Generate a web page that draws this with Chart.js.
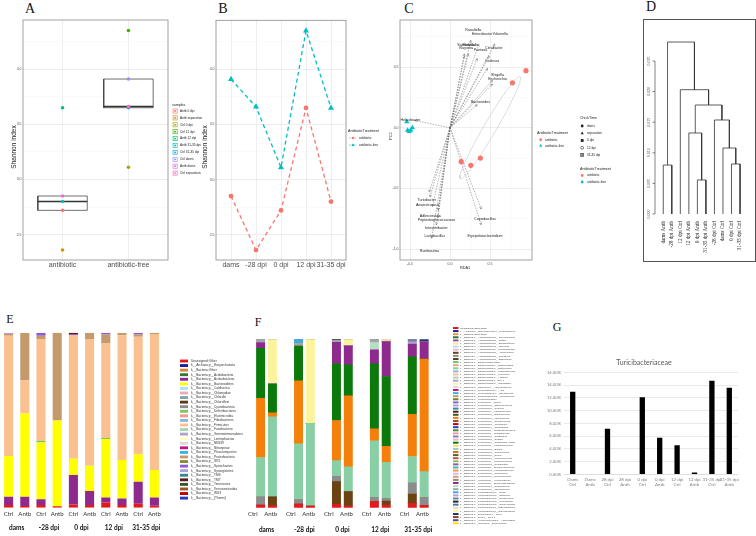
<!DOCTYPE html>
<html>
<head>
<meta charset="utf-8">
<title>Microbiota figure</title>
<script src="https://cdn.jsdelivr.net/npm/chart.js@4.4.1/dist/chart.umd.min.js"></script>
<style>
  body { margin: 0; width: 756px; height: 536px; position: relative; overflow: hidden; background: #fff; }
  canvas { position: absolute; }
  .tag { position: absolute; font-family: "Liberation Serif", serif; color: #111; line-height: 1; transform: translate(-50%, -50%); }
  #frameD { position: absolute; left: 643px; top: 19px; width: 111px; height: 241px; border: 1px solid #555; }
</style>
</head>
<body>
<div class="tag" style="left:30px;top:9px;font-size:14px">A</div>
<div class="tag" style="left:223px;top:9px;font-size:14px">B</div>
<div class="tag" style="left:409px;top:9px;font-size:14px">C</div>
<div class="tag" style="left:651px;top:7px;font-size:14px">D</div>
<div class="tag" style="left:10px;top:319px;font-size:12px">E</div>
<div class="tag" style="left:258px;top:322px;font-size:12px">F</div>
<div class="tag" style="left:557px;top:327px;font-size:12px">G</div>
<div id="frameD"></div>
<canvas id="chartA" width="205" height="265" style="left:0;top:15px"></canvas>
<canvas id="chartB" width="185" height="265" style="left:200px;top:15px"></canvas>
<canvas id="chartC" width="240" height="265" style="left:385px;top:15px"></canvas>
<canvas id="chartD" width="113" height="243" style="left:643px;top:19px"></canvas>
<canvas id="chartE" width="255" height="216" style="left:0;top:320px"></canvas>
<canvas id="chartF" width="270" height="216" style="left:245px;top:320px"></canvas>
<canvas id="chartG" width="241" height="150" style="left:515px;top:350px"></canvas>
<script>
// ---- alpha diversity (A, B) ----
const timepoints = ["dams", "-28 dpi", "0 dpi", "12 dpi", "31-35 dpi"];
const shannonAntb = [2.85, 2.36, 2.72, 3.65, 2.80];
const shannonCtrl = [3.91, 3.66, 3.11, 4.35, 3.65];
const shannonTicks = [2.5, 3.0, 3.5, 4.0];
const treatmentNames = ["antibiotic", "antibiotic-free"];
const sampleNames = ["Antb 0 dpi", "Antb separation", "Ctrl 0 dpi", "Ctrl 12 dpi", "Antb 12 dpi",
  "Antb 31-35 dpi", "Ctrl 31-35 dpi", "Ctrl dams", "Antb dams", "Ctrl separation"];
const sampleGroup = [0, 0, 1, 1, 0, 0, 1, 1, 0, 1];
const sampleTime = [2, 1, 2, 3, 3, 4, 4, 0, 0, 1];
const sampleColors = ["#F8766D", "#D89000", "#A3A500", "#39B600", "#00BF7D",
  "#00BFC4", "#00B0F6", "#9590FF", "#E76BF3", "#FF62BC"];

// ---- RDA biplot (C) ----
const taxa = ["Raoultella", "Enterobacter", "Yokenella", "Salmonella", "Klebsiella", "Kluyvera",
  "Pantoea", "Citrobacter", "Cedecea", "Shigella", "Escherichia", "Bacteroides", "Helicobacter",
  "Turicibacter", "Anaerotruncus", "Adlercreutzia", "Peptostreptococcaceae", "Intestinibacter",
  "Lactobacillus", "Romboutsia", "Coprobacillus", "Erysipelatoclostridium"];
const taxaRda1 = [0.26, 0.36, 0.56, 0.18, 0.23, 0.18, 0.34, 0.49, 0.47, 0.53, 0.53, 0.34, -0.44,
  -0.26, -0.25, -0.22, -0.15, -0.15, -0.17, -0.23, 0.39, 0.39];
const taxaPc2 = [0.72, 0.69, 0.69, 0.61, 0.61, 0.59, 0.57, 0.59, 0.49, 0.39, 0.36, 0.19, 0.06,
  -0.53, -0.57, -0.65, -0.68, -0.74, -0.80, -0.91, -0.67, -0.80];
const rdaAntb = [0.95, 0.78, 0.14, 0.26, 0.38];
const pc2Antb = [0.47, 0.37, -0.28, -0.31, -0.25];
const rdaFree = [-0.54, -0.51, -0.49, -0.47, -0.53];
const pc2Free = [0.05, -0.03, -0.02, 0.00, -0.02];
const rdaTicks = [-0.5, 0.0, 0.5];
const pcTicks = [-1.0, -0.5, 0.0, 0.5];
const chickTimes = ["dams", "separation", "0 dpi", "12 dpi", "31-35 dpi"];

// ---- dendrogram (D) ----
const leafLabels = ["dams Antb", "-28 dpi Antb", "12 dpi Ctrl", "12 dpi Antb", "0 dpi Antb",
  "31-35 dpi Antb", "-28 dpi Ctrl", "dams Ctrl", "0 dpi Ctrl", "31-35 dpi Ctrl"];
const mergePairs = [[-5, -6], [-1, -2], [-9, -10], [-8, 3], [-4, 1], [-7, 4], [5, 6], [-3, 7], [2, 8]];
const mergeHeights = [0.00556, 0.0080, 0.00817, 0.01078, 0.01324, 0.01536, 0.01781, 0.02031, 0.0281];
const dendroTicks = [0, 0.005, 0.010, 0.015, 0.020, 0.025];

// ---- phylum composition (E) ----
const barLabels = ["Ctrl", "Antb", "Ctrl", "Antb", "Ctrl", "Antb", "Ctrl", "Antb", "Ctrl", "Antb"];
const phyla = ["Unassigned;Other", "k__Archaea;p__Euryarchaeota", "k__Bacteria;Other",
  "k__Bacteria;p__Acidobacteria", "k__Bacteria;p__Actinobacteria", "k__Bacteria;p__Bacteroidetes",
  "k__Bacteria;p__Caldiserica", "k__Bacteria;p__Chlamydiae", "k__Bacteria;p__Chlorobi",
  "k__Bacteria;p__Chloroflexi", "k__Bacteria;p__Cyanobacteria", "k__Bacteria;p__Deferribacteres",
  "k__Bacteria;p__Elusimicrobia", "k__Bacteria;p__Fibrobacteres", "k__Bacteria;p__Firmicutes",
  "k__Bacteria;p__Fusobacteria", "k__Bacteria;p__Gemmatimonadetes", "k__Bacteria;p__Lentisphaerae",
  "k__Bacteria;p__NKB19", "k__Bacteria;p__Nitrospirae", "k__Bacteria;p__Planctomycetes",
  "k__Bacteria;p__Proteobacteria", "k__Bacteria;p__SR1", "k__Bacteria;p__Spirochaetes",
  "k__Bacteria;p__Synergistetes", "k__Bacteria;p__TM6", "k__Bacteria;p__TM7",
  "k__Bacteria;p__Tenericutes", "k__Bacteria;p__Verrucomicrobia", "k__Bacteria;p__WS3",
  "k__Bacteria;p__[Thermi]"];
const phylaColors = ["#e31a1c", "#1c1c9c", "#d08a3c", "#2e7d32", "#8e2a8e", "#ffff00", "#a6e4f0",
  "#f4a6c0", "#7fa6a6", "#5a3d1e", "#8c8c8c", "#7dc860", "#f29b8c", "#8db4e2", "#fac090", "#a9d5b5",
  "#b3a2c7", "#ffffc0", "#d9d9d9", "#c0168c", "#35b5e5", "#c49a6c", "#8a8a2e", "#8e5bd1", "#b19cd9",
  "#31859c", "#5c1a1a", "#375623", "#a0522d", "#c00000", "#1f3fbf"];
const eUnassigned = [1.5, 1.0, 1.5, 0.8, 1.9, 1.5, 3.0, 1.5, 2.3, 1.1];
const eActinobacteria = [4.8, 5.3, 3.4, 0, 16.8, 8.0, 2.9, 3.8, 12.6, 4.8];
const eBacteroidetes = [23.2, 47.6, 32.4, 49.0, 9.3, 14.5, 33.3, 21.9, 15.6, 15.6];
const eDeferribacteres = [0, 0, 0.8, 0, 0, 0, 0.6, 0, 0, 0];
const eFirmicutes = [68.8, 19.0, 58.3, 0, 70.7, 72.4, 54.1, 71.4, 67.2, 77.7];
const eProteobacteria = [1.0, 27.0, 1.9, 50.2, 0, 3.6, 5.1, 1.3, 1.3, 0.8];
const eSpirochaetes = [0, 0, 1.7, 0, 0.5, 0, 1.0, 0, 1.0, 0];
const eSynergistetes = [0.7, 0, 0, 0, 0, 0, 0, 0, 0, 0];
const eTM7 = [0, 0, 0, 0, 0.8, 0, 0, 0, 0, 0];
const eStackIdx = [0, 4, 5, 11, 14, 21, 23, 24, 26];
const eStackData = [eUnassigned, eActinobacteria, eBacteroidetes, eDeferribacteres, eFirmicutes,
  eProteobacteria, eSpirochaetes, eSynergistetes, eTM7];

// ---- genus composition (F) ----
const genera = ["Unassigned;Other;Other", "k__Archaea;p__Euryarchaeota;g__Methanobrevibacter",
  "k__Bacteria;Other;Other", "k__Bacteria;p__Actinobacteria;g__Corynebacterium",
  "k__Bacteria;p__Actinobacteria;g__Rothia", "k__Bacteria;p__Actinobacteria;g__Bifidobacterium",
  "k__Bacteria;p__Actinobacteria;g__Olsenella", "k__Bacteria;p__Actinobacteria;f__Coriobacteriaceae",
  "k__Bacteria;p__Actinobacteria;g__Adlercreutzia", "k__Bacteria;p__Actinobacteria;g__Collinsella",
  "k__Bacteria;p__Actinobacteria;g__Eggerthella", "k__Bacteria;p__Bacteroidetes;Other",
  "k__Bacteria;p__Bacteroidetes;o__Bacteroidales", "k__Bacteria;p__Bacteroidetes;g__Bacteroides",
  "k__Bacteria;p__Bacteroidetes;g__Parabacteroides", "k__Bacteria;p__Bacteroidetes;g__Prevotella",
  "k__Bacteria;p__Bacteroidetes;g__Alistipes", "k__Bacteria;p__Bacteroidetes;f__S24-7",
  "k__Bacteria;p__Bacteroidetes;g__Odoribacter", "k__Bacteria;p__Chloroflexi;f__Anaerolinaceae",
  "k__Bacteria;p__Cyanobacteria;o__YS2", "k__Bacteria;p__Cyanobacteria;o__Streptophyta",
  "k__Bacteria;p__Deferribacteres;g__Mucispirillum", "k__Bacteria;p__Firmicutes;Other",
  "k__Bacteria;p__Firmicutes;c__Bacilli", "k__Bacteria;p__Firmicutes;g__Staphylococcus",
  "k__Bacteria;p__Firmicutes;g__Gemella", "k__Bacteria;p__Firmicutes;o__Lactobacillales",
  "k__Bacteria;p__Firmicutes;g__Enterococcus", "k__Bacteria;p__Firmicutes;g__Lactobacillus",
  "k__Bacteria;p__Firmicutes;g__Streptococcus", "k__Bacteria;p__Firmicutes;g__Turicibacter",
  "k__Bacteria;p__Firmicutes;o__Clostridiales", "k__Bacteria;p__Firmicutes;f__Christensenellaceae",
  "k__Bacteria;p__Firmicutes;f__Clostridiaceae", "k__Bacteria;p__Firmicutes;g__Clostridium",
  "k__Bacteria;p__Firmicutes;g__SMB53", "k__Bacteria;p__Firmicutes;g__Candidatus Arthromitus",
  "k__Bacteria;p__Firmicutes;f__Lachnospiraceae", "k__Bacteria;p__Firmicutes;g__Blautia",
  "k__Bacteria;p__Firmicutes;g__Coprococcus", "k__Bacteria;p__Firmicutes;g__Dorea",
  "k__Bacteria;p__Firmicutes;g__[Ruminococcus]", "k__Bacteria;p__Firmicutes;f__Peptococcaceae",
  "k__Bacteria;p__Firmicutes;g__Romboutsia", "k__Bacteria;p__Firmicutes;f__Ruminococcaceae",
  "k__Bacteria;p__Firmicutes;g__Faecalibacterium", "k__Bacteria;p__Firmicutes;g__Oscillospira",
  "k__Bacteria;p__Firmicutes;g__Ruminococcus", "k__Bacteria;p__Firmicutes;f__Veillonellaceae",
  "k__Bacteria;p__Firmicutes;f__Erysipelotrichaceae", "k__Bacteria;p__Firmicutes;g__Coprobacillus",
  "k__Bacteria;p__Firmicutes;g__[Eubacterium]", "k__Bacteria;p__Proteobacteria;o__RF32",
  "k__Bacteria;p__Proteobacteria;g__Sutterella", "k__Bacteria;p__Proteobacteria;g__Desulfovibrio",
  "k__Bacteria;p__Proteobacteria;g__Helicobacter", "k__Bacteria;p__Proteobacteria;g__Campylobacter",
  "k__Bacteria;p__Proteobacteria;f__Enterobacteriaceae;Other",
  "k__Bacteria;p__Proteobacteria;f__Enterobacteriaceae", "k__Bacteria;p__Tenericutes;o__RF39",
  "k__Bacteria;p__TM7;c__TM7-3", "k__Bacteria;p__Verrucomicrobia;g__Akkermansia",
  "k__Bacteria;p__[Thermi];g__Deinococcus"];
const generaColors = ["#e31a1c", "#1c1c9c", "#e39b3c", "#1f7a3a", "#9c4f96", "#f2ee8a", "#b3e0f2",
  "#f4b6c8", "#6b4212", "#8c8c8c", "#5c3d1e", "#57d357", "#f0a08c", "#88cfa5", "#8db4e2", "#fac090",
  "#a9d5b5", "#b3a2c7", "#fff2a8", "#d9d9d9", "#c0168c", "#35b5e5", "#b0a36b", "#7a7a1e", "#8866cc",
  "#b0a0d8", "#2f8f9d", "#5c1a1a", "#3a5a1f", "#f57f0b", "#a0522d", "#c00000", "#2040c0", "#4b8f2a",
  "#ff9999", "#7f7fbf", "#e6b8b7", "#0b7a0b", "#ffd966", "#93cddd", "#e46c0a", "#4f6228", "#c0504d",
  "#9bbb59", "#8064a2", "#4bacc6", "#f79646", "#ccc1da", "#d99694", "#948a54", "#8e2a8e", "#b5dfc0",
  "#a6a6a6", "#3fa9e0", "#b7a0d0", "#6b7fa8", "#262626", "#31859c", "#f9d8b0", "#fbf49c", "#1f3864",
  "#953735", "#5f497a", "#ffe000"];
const fUnassigned = [1.6, 1.2, 2.2, 1.0, 2.2, 1.0, 3.6, 1.6, 2.6, 1.2];
const fAdlercreutzia = [0, 5.3, 0, 0, 13.3, 8.5, 0, 2.4, 5.5, 0];
const fCollinsella = [5.0, 0, 2.8, 0, 3.2, 0, 2.6, 1.6, 6.7, 5.0];
const fBacteroides = [23.2, 47.5, 33.0, 49.1, 9.3, 14.7, 33.5, 21.4, 15.6, 15.2];
const fLactobacillus = [35.2, 2.4, 37.4, 0, 23.8, 42.2, 7.1, 9.5, 25.1, 66.9];
const fArthromitus = [29.7, 17.0, 20.6, 0, 33.7, 18.4, 38.6, 41.4, 34.1, 0];
const fErysipelotrichaceae = [3.4, 0, 0, 0, 12.7, 11.3, 8.3, 20.8, 7.5, 10.3];
const fCoprobacillus = [0, 0, 0, 0, 0, 0, 4.4, 0, 0, 0];
const fEubacterium = [2.0, 0, 1.6, 0, 1.0, 0, 2.0, 0, 0, 0];
const fRF32 = [0, 0, 2.4, 0, 0, 0, 0, 0, 0, 0];
const fSutterella = [0, 0, 0, 0, 0, 0, 0, 0, 1.4, 0];
const fDesulfovibrio = [0, 0, 0, 0, 0, 0, 0, 0, 1.4, 0];
const fHelicobacter = [0, 0, 0, 0, 1.0, 0, 0, 0, 0, 0];
const fEnteroOther = [0, 0, 0, 0, 0, 0, 0, 1.3, 0, 0];
const fEnterobacteriaceae = [0, 26.5, 0, 49.9, 0, 3.9, 0, 0, 0, 0];
const fRF39 = [0, 0, 0, 0, 0, 0, 0, 0, 0, 1.4];
const fStackIdx = [0, 8, 9, 13, 29, 37, 50, 51, 52, 53, 54, 55, 56, 58, 59, 60];
const fStackData = [fUnassigned, fAdlercreutzia, fCollinsella, fBacteroides, fLactobacillus,
  fArthromitus, fErysipelotrichaceae, fCoprobacillus, fEubacterium, fRF32, fSutterella,
  fDesulfovibrio, fHelicobacter, fEnteroOther, fEnterobacteriaceae, fRF39];

// ---- Turicibacteraceae (G) ----
const turiciLabels = [["Dams", "Ctrl"], ["Dams", "Antb"], ["28 dpi", "Ctrl"], ["28 dpi", "Antb"],
  ["0 dpi", "Ctrl"], ["0 dpi", "Antb"], ["12 dpi", "Ctrl"], ["12 dpi", "Antb"],
  ["31-35 dpi", "Ctrl"], ["31-35 dpi", "Antb"]];
const turiciPct = [12.96, 0, 7.15, 0, 12.08, 5.74, 4.55, 0.3, 14.68, 13.58];

Chart.defaults.animation = false;
Chart.defaults.responsive = false;
Chart.defaults.devicePixelRatio = 1;
Chart.defaults.color = "#4d4d4d";
Chart.defaults.font.family = '"Liberation Sans", sans-serif';
Chart.defaults.plugins.legend.display = false;
Chart.defaults.plugins.tooltip.enabled = false;

const SANS = '"Liberation Sans", sans-serif';
const SERIF = '"Liberation Serif", serif';
const LATO = 'Lato, "Open Sans", sans-serif';

// helpers
function withMinors(majors, min, max) {
  const h = (majors[1] - majors[0]) / 2;
  const vals = new Set();
  majors.forEach(m => [m - h, m, m + h].forEach(v => {
    if (v >= min && v <= max) vals.add(+v.toFixed(6));
  }));
  return [...vals].sort((a, b) => a - b).map(v => ({ value: v }));
}
const isIn = (list, v) => list.some(m => Math.abs(m - v) < 1e-9);

function ggAxis(majors, min, max, width, axis) {
  const o = {
    type: "linear", min, max,
    afterBuildTicks: s => { s.ticks = withMinors(majors, min, max); },
    ticks: { callback: v => isIn(majors, v) ? v.toFixed(1) : "", font: { size: 3.5 }, color: "#4d4d4d",
      padding: 1.5, autoSkip: false, maxRotation: 0 },
    grid: {
      color: c => c.tick && isIn(majors, c.tick.value) ? "#e6e6e6" : "#f2f2f2",
      lineWidth: c => c.tick && isIn(majors, c.tick.value) ? 0.7 : 0.4,
      drawTicks: false
    },
    border: { display: false }
  };
  if (axis === "y") o.afterFit = s => { s.width = width; };
  else o.afterFit = s => { s.height = width; };
  return o;
}

function discreteX(names) {
  return {
    type: "linear", min: -0.6, max: names.length - 0.4,
    afterBuildTicks: s => { s.ticks = names.map((_, i) => ({ value: i })); },
    ticks: { callback: v => names[v], font: { size: 7 }, color: "#4d4d4d", padding: 1, maxRotation: 0, autoSkip: false },
    grid: { color: "#e6e6e6", lineWidth: 0.7, drawTicks: false },
    border: { display: false },
    afterFit: s => { s.height = 13; }
  };
}

function quantile(arr, p) {
  const s = [...arr].sort((a, b) => a - b);
  const h = (s.length - 1) * p, lo = Math.floor(h);
  const hi = Math.min(lo + 1, s.length - 1);
  return s[lo] + (h - lo) * (s[hi] - s[lo]);
}

function framePlugin(color) {
  return {
    id: "frame",
    afterDraw(chart) {
      const { ctx, chartArea: a } = chart;
      ctx.save();
      ctx.strokeStyle = color;
      ctx.lineWidth = 0.8;
      ctx.strokeRect(a.left, a.top, a.right - a.left, a.bottom - a.top);
      ctx.restore();
    }
  };
}

function textPlugin(items) {
  return {
    id: "texts",
    afterDraw(chart) {
      const ctx = chart.ctx;
      items.forEach(t => {
        ctx.save();
        ctx.translate(t.x, t.y);
        ctx.rotate(t.rot || 0);
        ctx.font = t.font;
        ctx.fillStyle = t.color || "#222";
        ctx.textAlign = t.align || "center";
        ctx.textBaseline = "middle";
        ctx.fillText(t.text, 0, 0);
        ctx.restore();
      });
    }
  };
}

function drawKey(ctx, shape, x, y, color, size) {
  ctx.save();
  ctx.fillStyle = color;
  ctx.strokeStyle = color;
  ctx.lineWidth = 0.6;
  const r = 1.4;
  const cx = x + size / 2;
  const tri = () => {
    ctx.beginPath();
    ctx.moveTo(cx, y - r * 1.2);
    ctx.lineTo(cx + r * 1.1, y + r * 0.8);
    ctx.lineTo(cx - r * 1.1, y + r * 0.8);
    ctx.closePath();
    ctx.fill();
  };
  if (shape === "rect") {
    ctx.fillRect(x, y - size * 0.18, size, size * 0.36);
  } else if (shape === "boxdot") {
    ctx.fillStyle = "#f4f4f4";
    ctx.fillRect(x, y - size / 2, size, size);
    ctx.strokeRect(x, y - size / 2, size, size);
    ctx.fillStyle = color;
    ctx.beginPath(); ctx.arc(cx, y, 0.9, 0, Math.PI * 2); ctx.fill();
  } else if (shape === "dashC" || shape === "dashT") {
    ctx.setLineDash([1.6, 1]);
    ctx.beginPath(); ctx.moveTo(x, y); ctx.lineTo(x + size, y); ctx.stroke();
    ctx.setLineDash([]);
    if (shape === "dashC") { ctx.beginPath(); ctx.arc(cx, y, 1.2, 0, Math.PI * 2); ctx.fill(); }
    else tri();
  } else if (shape === "circle") {
    ctx.beginPath(); ctx.arc(cx, y, r, 0, Math.PI * 2); ctx.fill();
  } else if (shape === "triangle") {
    tri();
  } else if (shape === "square") {
    ctx.fillRect(cx - r, y - r, r * 2, r * 2);
  } else if (shape === "ocircle") {
    ctx.beginPath(); ctx.arc(cx, y, r, 0, Math.PI * 2); ctx.stroke();
  } else if (shape === "xsquare") {
    ctx.strokeRect(cx - r, y - r, r * 2, r * 2);
    ctx.beginPath();
    ctx.moveTo(cx - r, y - r); ctx.lineTo(cx + r, y + r);
    ctx.moveTo(cx + r, y - r); ctx.lineTo(cx - r, y + r);
    ctx.stroke();
  }
  ctx.restore();
}

function legendPlugin(blocks) {
  return {
    id: "sideLegend",
    afterDraw(chart) {
      const ctx = chart.ctx;
      blocks.forEach(b => {
        ctx.save();
        ctx.textBaseline = "middle";
        ctx.textAlign = "left";
        ctx.fillStyle = "#222";
        if (b.title) {
          ctx.font = `${b.titleSize || b.size}px ${b.family}`;
          ctx.fillText(b.title, b.titleX, b.titleY);
        }
        ctx.font = `${b.size}px ${b.family}`;
        b.items.forEach((it, i) => {
          const y = b.y + i * b.step;
          drawKey(ctx, it.shape, b.keyX, y, it.color, b.keySize);
          ctx.fillStyle = b.textColor || "#222";
          ctx.fillText(it.label, b.textX, y);
        });
        ctx.restore();
      });
    }
  };
}

// ================= A: boxplot of Shannon index =================
const sampleValue = i => (sampleGroup[i] ? shannonCtrl : shannonAntb)[sampleTime[i]];
const groupValues = treatmentNames.map((_, g) =>
  sampleNames.map((_, i) => i).filter(i => sampleGroup[i] === g).map(sampleValue));
const boxHalf = 0.375;
const boxDatasets = [];
groupValues.forEach((vals, g) => {
  const q1 = quantile(vals, 0.25), med = quantile(vals, 0.5), q3 = quantile(vals, 0.75);
  boxDatasets.push({
    data: [{ x: g - boxHalf, y: q1 }, { x: g + boxHalf, y: q1 }, { x: g + boxHalf, y: q3 },
      { x: g - boxHalf, y: q3 }, { x: g - boxHalf, y: q1 }],
    borderColor: "#333", borderWidth: 0.7, backgroundColor: "#fff", fill: "shape",
    pointRadius: 0, order: 2
  });
  boxDatasets.push({
    data: [{ x: g - boxHalf, y: med }, { x: g + boxHalf, y: med }],
    borderColor: "#333", borderWidth: 1.5, pointRadius: 0, order: 1
  });
});

new Chart(document.getElementById("chartA"), {
  type: "line",
  data: {
    datasets: [...boxDatasets, {
      data: sampleNames.map((_, i) => ({ x: sampleGroup[i], y: sampleValue(i) })),
      showLine: false, pointRadius: 1.8, pointBorderWidth: 0,
      pointBackgroundColor: sampleColors, order: 0
    }]
  },
  options: {
    layout: { padding: { left: 0, right: 37, top: 5, bottom: 7 } },
    scales: { x: discreteX(treatmentNames), y: ggAxis(shannonTicks, 2.27, 4.445, 23, "y") }
  },
  plugins: [
    framePlugin("#8a8a8a"),
    textPlugin([{ text: "Shannon index", x: 14, y: 132, rot: -Math.PI / 2, font: `6.5px ${SANS}`, color: "#222" }]),
    legendPlugin([{
      title: "samples", titleX: 172, titleY: 90, size: 3.2, titleSize: 3.6, family: SANS,
      keyX: 173, keySize: 4.2, textX: 180, y: 96, step: 6.9,
      items: sampleNames.map((n, i) => ({ label: n, color: sampleColors[i], shape: "boxdot" }))
    }])
  ]
});

// ================= B: Shannon index over time =================
new Chart(document.getElementById("chartB"), {
  type: "line",
  data: {
    datasets: [
      {
        data: timepoints.map((_, i) => ({ x: i, y: shannonAntb[i] })),
        borderColor: "#F8766D", backgroundColor: "#F8766D", borderDash: [4, 3], borderWidth: 1.3,
        pointRadius: 1.8, pointStyle: "circle", tension: 0
      },
      {
        data: timepoints.map((_, i) => ({ x: i, y: shannonCtrl[i] })),
        borderColor: "#00BFC4", backgroundColor: "#00BFC4", borderDash: [4, 3], borderWidth: 1.3,
        pointRadius: 2.2, pointStyle: "triangle", tension: 0
      }
    ]
  },
  options: {
    layout: { padding: { left: 0, right: 39, top: 5, bottom: 7 } },
    scales: { x: discreteX(timepoints), y: ggAxis(shannonTicks, 2.27, 4.445, 16, "y") }
  },
  plugins: [
    framePlugin("#8a8a8a"),
    textPlugin([{ text: "Shannon index", x: 5, y: 132, rot: -Math.PI / 2, font: `6.5px ${SANS}`, color: "#222" }]),
    legendPlugin([{
      title: "AntibioticTreatment", titleX: 148, titleY: 116, size: 3.2, titleSize: 3.6, family: SANS,
      keyX: 149, keySize: 8, textX: 159, y: 123, step: 7,
      items: [{ label: "antibiotic", color: "#F8766D", shape: "dashC" },
        { label: "antibiotic-free", color: "#00BFC4", shape: "dashT" }]
    }])
  ]
});

// ================= C: RDA biplot =================
const arrowData = [];
taxa.forEach((_, i) => {
  arrowData.push({ x: 0, y: 0 }, { x: taxaRda1[i], y: taxaPc2[i] }, { x: 0, y: null });
});

function seEllipse(xs, ys) {
  const n = xs.length;
  const mx = xs.reduce((a, b) => a + b, 0) / n, my = ys.reduce((a, b) => a + b, 0) / n;
  let sxx = 0, syy = 0, sxy = 0;
  xs.forEach((x, i) => {
    sxx += (x - mx) ** 2; syy += (ys[i] - my) ** 2; sxy += (x - mx) * (ys[i] - my);
  });
  sxx /= n - 1; syy /= n - 1; sxy /= n - 1;
  const tr = sxx + syy, det = sxx * syy - sxy * sxy;
  const d = Math.sqrt(Math.max(tr * tr / 4 - det, 0));
  const l1 = tr / 2 + d, l2 = Math.max(tr / 2 - d, 0);
  const ang = Math.atan2(l1 - sxx, sxy);
  const k = Math.sqrt(5.991);
  const a = k * Math.sqrt(l1 / n), b = k * Math.sqrt(l2 / n);
  const pts = [];
  for (let t = 0; t <= 72; t++) {
    const th = (t / 72) * Math.PI * 2;
    pts.push({
      x: mx + a * Math.cos(th) * Math.cos(ang) - b * Math.sin(th) * Math.sin(ang),
      y: my + a * Math.cos(th) * Math.sin(ang) + b * Math.sin(th) * Math.cos(ang)
    });
  }
  return pts;
}

const biplotLabels = {
  id: "biplotLabels",
  afterDatasetsDraw(chart) {
    const { ctx, scales: { x, y } } = chart;
    const x0 = x.getPixelForValue(0), y0 = y.getPixelForValue(0);
    ctx.save();
    ctx.strokeStyle = "#555";
    ctx.lineWidth = 0.5;
    ctx.fillStyle = "#1a1a1a";
    ctx.font = `3.6px ${SANS}`;
    ctx.textAlign = "center";
    ctx.textBaseline = "middle";
    taxa.forEach((name, i) => {
      const px = x.getPixelForValue(taxaRda1[i]), py = y.getPixelForValue(taxaPc2[i]);
      const ang = Math.atan2(py - y0, px - x0);
      ctx.beginPath();
      ctx.moveTo(px - 2.5 * Math.cos(ang - 0.45), py - 2.5 * Math.sin(ang - 0.45));
      ctx.lineTo(px, py);
      ctx.lineTo(px - 2.5 * Math.cos(ang + 0.45), py - 2.5 * Math.sin(ang + 0.45));
      ctx.stroke();
      ctx.fillText(name, x.getPixelForValue(taxaRda1[i] * 1.12), y.getPixelForValue(taxaPc2[i] * 1.12));
    });
    ctx.restore();
  }
};

new Chart(document.getElementById("chartC"), {
  type: "scatter",
  data: {
    datasets: [
      {
        data: arrowData, showLine: true, spanGaps: false, borderColor: "#666", borderWidth: 0.5,
        borderDash: [1.5, 1.2], pointRadius: 0, order: 3
      },
      {
        data: seEllipse(rdaAntb, pc2Antb), showLine: true, borderColor: "#bbb", borderWidth: 0.5,
        pointRadius: 0, order: 2
      },
      {
        data: rdaAntb.map((v, i) => ({ x: v, y: pc2Antb[i] })), pointStyle: "circle", pointRadius: 2.6,
        pointBorderWidth: 0, backgroundColor: "#F8766D", order: 0
      },
      {
        data: rdaFree.map((v, i) => ({ x: v, y: pc2Free[i] })), pointStyle: "triangle", pointRadius: 3,
        pointBorderWidth: 0, backgroundColor: "#00BFC4", order: 0
      }
    ]
  },
  options: {
    layout: { padding: { left: 0, right: 93, top: 5, bottom: 8 } },
    scales: {
      x: ggAxis(rdaTicks, -0.625, 1.025, 12, "x"),
      y: ggAxis(pcTicks, -1.09, 0.888, 15, "y")
    }
  },
  plugins: [
    framePlugin("#8a8a8a"),
    biplotLabels,
    textPlugin([
      { text: "PC2", x: 6, y: 121, rot: -Math.PI / 2, font: `3.8px ${SANS}`, color: "#222" },
      { text: "RDA1", x: 80, y: 253, font: `3.8px ${SANS}`, color: "#222" }
    ]),
    legendPlugin([
      {
        title: "AntibioticTreatment", titleX: 152, titleY: 118, size: 3.2, titleSize: 3.6, family: SANS,
        keyX: 154, keySize: 3.4, textX: 160, y: 124.7, step: 6,
        items: [{ label: "antibiotic", color: "#F8766D", shape: "circle" },
          { label: "antibiotic-free", color: "#00BFC4", shape: "triangle" }]
      },
      {
        title: "ChickTime", titleX: 195, titleY: 103, size: 3.2, titleSize: 3.6, family: SANS,
        keyX: 195.5, keySize: 3.4, textX: 202, y: 111, step: 7.25,
        items: chickTimes.map((t, i) => ({ label: t, color: "#222",
          shape: ["circle", "triangle", "square", "ocircle", "xsquare"][i] }))
      },
      {
        title: "AntibioticTreatment", titleX: 195, titleY: 154, size: 3.2, titleSize: 3.6, family: SANS,
        keyX: 195.5, keySize: 3.4, textX: 202, y: 160.5, step: 6.5,
        items: [{ label: "antibiotic", color: "#F8766D", shape: "circle" },
          { label: "antibiotic-free", color: "#00BFC4", shape: "circle" }]
      }
    ])
  ]
});

// ================= D: dendrogram =================
const nodes = [];
const dendroData = [];
const nodeOf = ref => ref < 0 ? { x: -ref, h: 0 } : nodes[ref - 1];
mergePairs.forEach((pair, m) => {
  const L = nodeOf(pair[0]), R = nodeOf(pair[1]), h = mergeHeights[m];
  dendroData.push({ x: L.x, y: L.h }, { x: L.x, y: h }, { x: R.x, y: h }, { x: R.x, y: R.h }, { x: R.x, y: null });
  nodes.push({ x: (L.x + R.x) / 2, h });
});

const dendroAxis = {
  id: "dendroAxis",
  afterDraw(chart) {
    const { ctx, scales: { y }, chartArea: a } = chart;
    const ax = a.left - 4;
    ctx.save();
    ctx.strokeStyle = "#333";
    ctx.lineWidth = 0.6;
    ctx.beginPath();
    ctx.moveTo(ax, y.getPixelForValue(dendroTicks[0]));
    ctx.lineTo(ax, y.getPixelForValue(dendroTicks[dendroTicks.length - 1]));
    dendroTicks.forEach(t => {
      const py = y.getPixelForValue(t);
      ctx.moveTo(ax, py); ctx.lineTo(ax - 2.5, py);
    });
    ctx.stroke();
    ctx.font = `4px ${SERIF}`;
    ctx.fillStyle = "#333";
    ctx.textAlign = "center";
    ctx.textBaseline = "middle";
    dendroTicks.forEach(t => {
      ctx.save();
      ctx.translate(ax - 6, y.getPixelForValue(t));
      ctx.rotate(-Math.PI / 2);
      ctx.fillText(t.toFixed(3), 0, 0);
      ctx.restore();
    });
    ctx.restore();
  }
};

new Chart(document.getElementById("chartD"), {
  type: "line",
  data: {
    datasets: [{ data: dendroData, borderColor: "#333", borderWidth: 0.8, pointRadius: 0, spanGaps: false, tension: 0 }]
  },
  options: {
    layout: { padding: { left: 16, right: 11.7, top: 11.4, bottom: 0 } },
    scales: {
      x: {
        type: "linear", min: 0.5, max: leafLabels.length + 0.5,
        afterBuildTicks: s => { s.ticks = leafLabels.map((_, i) => ({ value: i + 1 })); },
        ticks: { callback: v => leafLabels[v - 1], minRotation: 90, maxRotation: 90, autoSkip: false,
          padding: 7, font: { family: SERIF, size: 5.2 }, color: "#222" },
        grid: { display: false, drawTicks: false }, border: { display: false },
        afterFit: s => { s.height = 48; }
      },
      y: { type: "linear", min: 0, max: 0.03, display: false }
    }
  },
  plugins: [dendroAxis]
});

// ================= E: phylum stacked bars =================
new Chart(document.getElementById("chartE"), {
  type: "bar",
  data: {
    labels: barLabels,
    datasets: eStackIdx.map((k, j) => ({
      label: phyla[k], data: eStackData[j], backgroundColor: phylaColors[k],
      barPercentage: 0.56, categoryPercentage: 1
    }))
  },
  options: {
    layout: { padding: { left: 0.5, right: 92.5, top: 12.7, bottom: 0 } },
    scales: {
      x: {
        stacked: true, grid: { display: false, drawTicks: false }, border: { display: false },
        ticks: { font: { family: LATO, size: 6 }, color: "#333", padding: 3, autoSkip: false, maxRotation: 0 },
        afterFit: s => { s.height = 12; }
      },
      x2: {
        type: "category", labels: timepoints, offset: true, position: "bottom", weight: 1,
        grid: { display: false, drawTicks: false }, border: { display: false },
        ticks: { font: { family: LATO, size: 6.5, weight: "bold" }, color: "#111", padding: 4, autoSkip: false, maxRotation: 0 },
        afterFit: s => { s.height = 16.3; }
      },
      y: { stacked: true, min: 0, max: 100, display: false }
    }
  },
  plugins: [legendPlugin([{
    size: 3.2, family: SANS, keyX: 180, keySize: 8, textX: 191, y: 41, step: 4.57, textColor: "#333",
    items: phyla.map((p, i) => ({ label: p, color: phylaColors[i], shape: "rect" }))
  }])]
});

// ================= F: genus stacked bars =================
const fBarPos = barLabels.map((_, i) => Math.floor(i / 2) + (i % 2 ? 0.156 : -0.156));
const fLabelPos = barLabels.map((_, i) => Math.floor(i / 2) + (i % 2 ? 0.11 : -0.36));
new Chart(document.getElementById("chartF"), {
  type: "bar",
  data: {
    datasets: fStackIdx.map((k, j) => ({
      label: genera[k], data: fStackData[j].map((v, i) => ({ x: fBarPos[i], y: v })),
      backgroundColor: generaColors[k], barThickness: 8.3
    }))
  },
  options: {
    layout: { padding: { left: 3.8, right: 79.7, top: 19.3, bottom: 0 } },
    scales: {
      x: {
        type: "linear", min: -0.4, max: 4.45, stacked: true, offset: false,
        afterBuildTicks: s => { s.ticks = fLabelPos.map(v => ({ value: v })); },
        ticks: { callback: (v, i) => barLabels[i], font: { family: LATO, size: 6 }, color: "#333",
          padding: 3, autoSkip: false, maxRotation: 0 },
        grid: { display: false, drawTicks: false }, border: { display: false },
        afterFit: s => { s.height = 13; }
      },
      x2: {
        type: "linear", min: -0.4, max: 4.45, offset: false, position: "bottom", weight: 1,
        afterBuildTicks: s => { s.ticks = timepoints.map((_, i) => ({ value: i })); },
        ticks: { callback: v => timepoints[v], font: { family: LATO, size: 6.5, weight: "bold" }, color: "#111",
          padding: 5, autoSkip: false, maxRotation: 0 },
        grid: { display: false, drawTicks: false }, border: { display: false },
        afterFit: s => { s.height = 15.3; }
      },
      y: { stacked: true, min: 0, max: 100, display: false }
    }
  },
  plugins: [legendPlugin([{
    size: 2.5, family: SANS, keyX: 208, keySize: 5.5, textX: 215, y: 8, step: 3.1, textColor: "#444",
    items: genera.map((g, i) => ({ label: g, color: generaColors[i], shape: "rect" }))
  }])]
});

// ================= G: Turicibacteraceae =================
new Chart(document.getElementById("chartG"), {
  type: "bar",
  data: {
    labels: turiciLabels,
    datasets: [{ data: turiciPct, backgroundColor: "#000", barPercentage: 0.305, categoryPercentage: 1 }]
  },
  options: {
    layout: { padding: { left: 0, right: 18, top: 22.3, bottom: 0 } },
    scales: {
      x: {
        grid: { display: false, drawTicks: false }, border: { color: "#d9d9d9", width: 0.7 },
        ticks: { font: { family: LATO, size: 4.4 }, color: "#7f7f7f", padding: 2.5, autoSkip: false, maxRotation: 0 },
        afterFit: s => { s.height = 25.7; }
      },
      y: {
        min: 0, max: 16,
        ticks: { stepSize: 2, callback: v => v.toFixed(2) + "%", font: { family: LATO, size: 4.2 },
          color: "#7f7f7f", padding: 3 },
        grid: { color: "#e3e3e3", lineWidth: 0.8, drawTicks: false }, border: { display: false },
        afterFit: s => { s.width = 49; }
      }
    }
  },
  plugins: [textPlugin([{ text: "Turicibacteriaceae", x: 129, y: 12.7, font: `7px ${LATO}`, color: "#595959" }])]
});
</script>
</body>
</html>
